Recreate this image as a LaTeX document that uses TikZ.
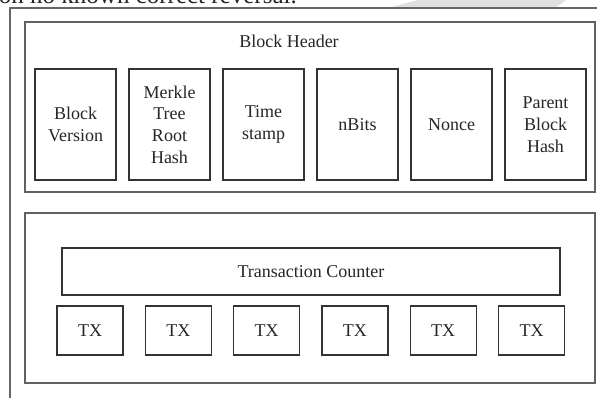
\documentclass[tikz,border=0pt]{standalone}
\usepackage{fontspec}
\setmainfont{Liberation Serif}
\begin{document}
\begin{tikzpicture}[x=1pt,y=-1pt,
  frame/.style={draw=black!62,line width=1.3pt,rectangle,inner sep=0pt},
  field/.style={draw=black!80,line width=1.2pt,rectangle,inner sep=0pt,
    minimum width=81pt,minimum height=111pt,align=center,
    font=\fontsize{18}{21.7}\selectfont,text=black!85},
  txbox/.style={draw=black!80,line width=1.2pt,rectangle,inner sep=0pt,
    minimum width=66pt,minimum height=49pt,
    font=\fontsize{18}{21.7}\selectfont,text=black!85},
  label/.style={font=\fontsize{18}{21.7}\selectfont,text=black!85,inner sep=0pt}]
\useasboundingbox (0,0) rectangle (597,398);
\clip (0,0) rectangle (597,398);
\fill[white] (0,0) rectangle (597,398);

% page text running above the figure
\node[anchor=base east,inner sep=0pt,font=\fontsize{25}{30}\selectfont,text=black!85]
  (runon) at (297,4) {on no known correct reversal.};
% faint watermark sweep
\fill[black!12] (390,7.5) -- (418,0) -- (566,0) -- (556,7.5) -- cycle;

% outer figure border
\draw[black!60,line width=1.6pt] (10,400) -- (10,8) -- (600,8);

% block header
\node[frame,minimum width=570pt,minimum height=170pt] (hdr) at (310,107) {};
\node[label] (hdrtitle) at (289,41) {Block Header};
\node[field] (ver)    at (75.5,124.5)  {Block\\Version};
\node[field] (merkle) at (169.5,124.5) {Merkle\\Tree\\Root\\Hash};
\node[field] (time)   at (263.5,124.5) {Time\\stamp};
\node[field] (bits)   at (357.5,124.5) {nBits};
\node[field] (nonce)  at (451.5,124.5) {Nonce};
\node[field] (parent) at (545.5,124.5) {Parent\\Block\\Hash};

% transactions
\node[frame,minimum width=570pt,minimum height=170pt] (body) at (310,298) {};
\node[draw=black!80,line width=1.2pt,rectangle,inner sep=0pt,
  minimum width=498pt,minimum height=47pt,
  font=\fontsize{18}{21.7}\selectfont,text=black!85] (counter) at (311,271.5) {Transaction Counter};
\foreach \i in {0,...,5}{
  \node[txbox] (tx\i) at (90+88.3*\i,330.5) {TX};
}
\end{tikzpicture}
\end{document}
